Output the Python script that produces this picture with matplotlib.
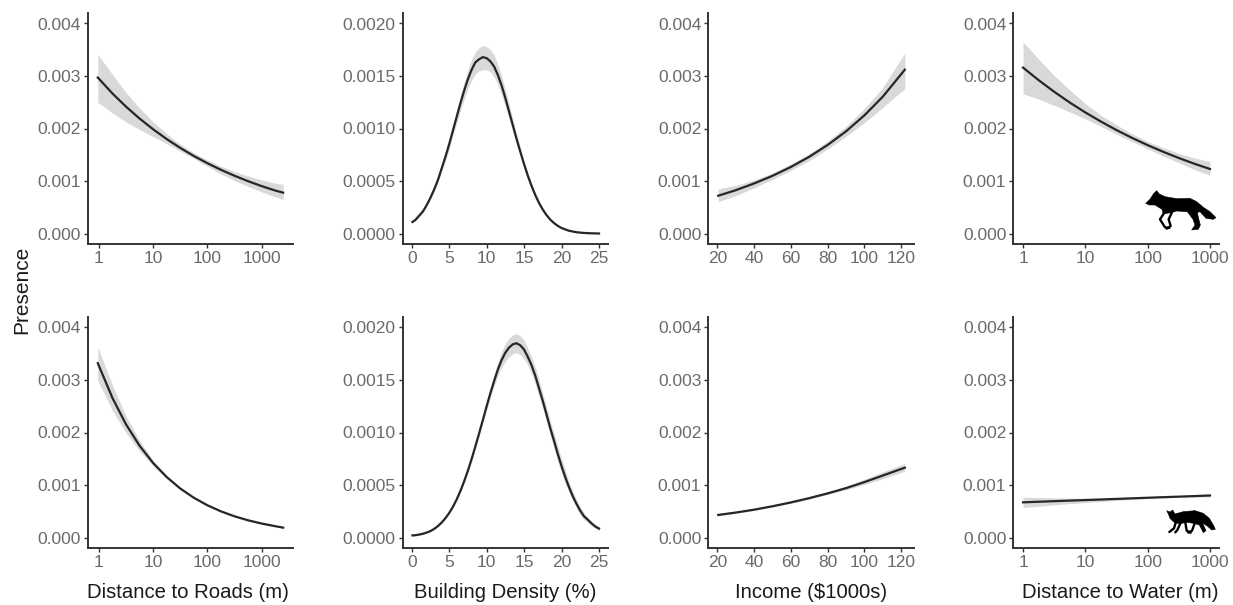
"""Fox presence partial-effect curves, two rows by four covariates."""

import matplotlib

matplotlib.use("Agg")
import matplotlib.pyplot as plt
from matplotlib.lines import Line2D
from matplotlib.patches import Polygon

W, H = 1233, 605

road_x = [0.95, 1.78, 3.16, 5.62, 10, 17.8, 31.6, 56.2, 100, 178, 316, 562, 1000, 1778, 2500]
water_x = [1, 1.78, 3.16, 5.62, 10, 17.8, 31.6, 56.2, 100, 178, 316, 562, 1000]
income_x = [20.5, 30, 40, 50, 60, 70, 80, 90, 100, 110, 122]
density_top_x = [0.1, 0.5, 1, 1.5, 2, 2.5, 3, 3.5, 4, 4.5, 5, 5.5, 6, 6.5, 7, 7.5, 8, 8.5, 9, 9.5,
                 10, 10.5, 11, 11.5, 12, 12.5, 13, 13.5, 14, 14.5, 15, 15.5, 16, 16.5, 17, 17.5,
                 18, 18.5, 19, 19.5, 20, 21, 22, 23, 24, 25]
density_bot_x = [0.1, 0.5, 1, 1.5, 2, 2.5, 3, 3.5, 4, 4.5, 5, 5.5, 6, 6.5, 7, 7.5, 8, 8.5, 9, 9.5,
                 10, 10.5, 11, 11.5, 12, 12.5, 13, 13.5, 14, 14.5, 15, 15.5, 16, 16.5, 17, 17.5,
                 18, 18.5, 19, 19.5, 20, 20.5, 21, 21.5, 22, 22.5, 23, 23.5, 24, 24.5, 25]

# top row
road_top = [.00297, .002665, .002415, .002189, .001984, .001798, .00163, .001477, .001339, .001213,
            .0011, .000997, .000903, .000819, .000778]
road_top_hi = [.00341, .003025, .002685, .002389, .002124, .001898, .0017, .001537, .001399, .001283,
               .00118, .001097, .001023, .000959, .000938]
road_top_lo = [.0025, .002295, .002125, .001979, .001844, .001708, .00157, .001427, .001279, .001133,
               .00101, .000897, .000793, .000699, .000648]

density_top = [.00011, .00013, .00017, .00021, .00027, .00034, .00042, .00051, .00062, .00073,
               .00085, .00098, .00111, .00124, .00136, .00147, .00156, .00163, .00166, .00168,
               .00167, .00164, .00159, .00151, .00141, .00129, .00116, .00103, .0009, .000778,
               .00066, .00055, .000452, .000365, .00029, .000227, .000175, .000132, .000099,
               .000073, .000052, .000026, .000012, .000005, .000002, 0]
density_top_hi = [.00012, .00014, .00018, .00022, .00028, .000355, .00044, .000535, .00065, .00077,
                  .0009, .00103, .00117, .00131, .00144, .00156, .00166, .00173, .00177, .00179,
                  .00178, .00175, .0017, .00161, .0015, .00137, .00123, .00109, .00095, .00082,
                  .00069, .00058, .00048, .00039, .00031, .00024, .000185, .00014, .000105,
                  .000078, .000056, .00003, .000014, .000006, .000003, .000001]
density_top_lo = [.0001, .00012, .00016, .0002, .00026, .000325, .0004, .000485, .00059, .00069,
                  .0008, .00093, .00105, .00117, .00128, .00138, .00146, .00152, .00155, .00156,
                  .00156, .00154, .00149, .00142, .00132, .00121, .00109, .00097, .00085, .00074,
                  .00063, .00052, .00043, .00034, .00027, .00021, .000165, .000124, .000093,
                  .000068, .000048, .000022, .00001, .000004, .000001, 0]

income_top = [.00072, .000824, .000953, .001098, .001267, .001461, .001686, .001945, .00225, .002605, .00312]
income_top_hi = [.00085, .000915, .00102, .001155, .001325, .00152, .00176, .00204, .00238, .00278, .00344]
income_top_lo = [.00061, .00072, .00087, .00103, .0012, .00139, .00161, .00185, .00211, .0024, .00276]

water_top = [.00316, .002921, .0027, .002495, .002306, .002132, .00197, .001821, .001683, .001556,
             .001438, .001329, .001229]
water_top_hi = [.00365, .003321, .00301, .002735, .002476, .002252, .00207, .001901, .001753, .001636,
                .001528, .001439, .001369]
water_top_lo = [.00266, .002561, .00244, .002315, .002186, .002042, .00189, .001751, .001613, .001476,
                .001348, .001219, .001109]

# bottom row
road_bot = [.00332, .002653, .002153, .001747, .001417, .00115, .000933, .000757, .000614, .000498,
            .000404, .000328, .000266, .000216, .000188]
road_bot_hi = [.00363, .002893, .002313, .001847, .001467, .00118, .000953, .000772, .000626, .000509,
               .000414, .000337, .000275, .000225, .000198]
road_bot_lo = [.00299, .002413, .001993, .001647, .001367, .00112, .000913, .000742, .000602, .000487,
               .000394, .000319, .000257, .000207, .000178]

density_bot = [.00002, .000022, .000028, .000036, .000047, .000061, .000082, .000109, .000142, .000184,
               .000233, .000292, .000362, .000443, .000535, .000637, .000748, .000868, .000993, .00112,
               .00125, .001375, .00149, .0016, .00169, .00176, .00181, .00184, .00185, .00183,
               .00179, .00172, .00164, .00154, .00142, .0013, .00117, .00104, .00092, .000795,
               .00068, .000574, .000479, .000393, .00032, .000255, .000202, .00017, .000135, .000105,
               .000085]
density_bot_hi = [.000025, .000027, .000033, .000041, .000052, .000066, .000087, .000115, .000148, .00019,
                  .00024, .0003, .00037, .000455, .00055, .000655, .00077, .000893, .00102, .00115,
                  .00129, .00142, .00155, .00167, .00177, .00185, .0019, .00193, .00194, .00192,
                  .00188, .0018, .00172, .00162, .0015, .00137, .00124, .00111, .00099, .00087,
                  .00075, .00064, .00053, .00044, .00036, .00029, .00023, .00019, .00015, .00012,
                  .000105]
density_bot_lo = [.000015, .000017, .000023, .000031, .000042, .000056, .000077, .000103, .000136, .000178,
                  .000226, .000284, .000354, .000431, .00052, .00062, .000726, .000843, .000966, .00109,
                  .00121, .00133, .00144, .00154, .00162, .00168, .00172, .00175, .00176, .00174,
                  .0017, .00164, .00156, .00146, .00134, .00123, .0011, .00097, .00085, .00072,
                  .00061, .00051, .00043, .00035, .00028, .00022, .00017, .00014, .00011, .00009,
                  .00006]

income_bot = [.00043, .000475, .00053, .000595, .000668, .00075, .00084, .00094, .001055, .00118, .00133]
income_bot_hi = [.00045, .00049, .000545, .00061, .000685, .00077, .00087, .00098, .00111, .00125, .00141]
income_bot_lo = [.00041, .00046, .000515, .00058, .000652, .00073, .00082, .00091, .00101, .00112, .00126]

water_bot = [.00067, .000681, .000692, .000703, .000713, .000724, .000735, .000746, .000757, .000768,
             .000778, .000789, .0008]
water_bot_hi = [.00077, .00076, .000755, .00075, .000748, .000748, .00075, .000755, .000765, .000775,
                .00079, .00081, .00083]
water_bot_lo = [.00057, .000595, .00062, .000645, .000665, .000685, .000705, .000725, .000745, .000755,
                .000765, .00077, .00077]

y_ticks_wide = [0, .001, .002, .003, .004]
y_ticks_narrow = [0, .0005, .001, .0015, .002]
log_ticks = [1, 10, 100, 1000]
log_labels = ["1", "10", "100", "1000"]
density_ticks = [0, 5, 10, 15, 20, 25]
income_ticks = [20, 40, 60, 80, 100, 120]

x_labels = ["Distance to Roads (m)", "Building Density (%)", "Income ($1000s)", "Distance to Water (m)"]
x_label_centres = [187.5, 505, 811, 1120]

# silhouettes, in 3x pixels from an origin in the picture
FOX_RUN_ORIGIN = (1100, 170)
FOX_RUN_BODY = [(137, 100), (150, 88), (160, 72), (170, 62), (178, 72), (195, 80), (230, 86), (270, 85),
                (290, 95), (310, 112), (330, 125), (348, 143), (340, 148), (318, 145), (300, 125),
                (292, 128), (297, 150), (301, 165), (295, 178), (275, 180), (285, 165), (279, 148),
                (262, 125), (230, 123), (212, 128), (190, 132), (186, 118), (165, 105), (148, 105)]
FOX_RUN_LEGS = [[(195, 125), (180, 148), (195, 172), (208, 174)],
                [(218, 122), (206, 148), (212, 168), (200, 176)]]
FOX_WALK_ORIGIN = (1120, 490)
FOX_WALK_BODY = [(140, 62), (150, 66), (158, 60), (165, 72), (190, 65), (225, 62), (250, 70), (268, 85),
                 (280, 105), (286, 118), (275, 120), (262, 108), (248, 100), (258, 122), (250, 128),
                 (238, 105), (222, 100), (200, 97), (185, 100), (170, 100), (160, 95), (150, 85),
                 (145, 72)]
FOX_WALK_LEGS = [[(168, 95), (162, 115), (148, 126)],
                 [(182, 98), (172, 120), (166, 127)],
                 [(196, 98), (200, 122), (212, 128)],
                 [(224, 100), (216, 122), (205, 128)]]


def to_fig(points, origin):
    return [((origin[0] + x / 3) / W, 1 - (origin[1] + y / 3) / H) for x, y in points]


def draw_fox(fig, body, legs, origin):
    fig.add_artist(Polygon(to_fig(body, origin), closed=True, transform=fig.transFigure,
                           facecolor="black", edgecolor="black", linewidth=0.4))
    for leg in legs:
        xy = to_fig(leg, origin)
        fig.add_artist(Line2D([p[0] for p in xy], [p[1] for p in xy], transform=fig.transFigure,
                              color="black", linewidth=1.7, solid_capstyle="round"))


def panel(fig, box, xlim, ylim, x, y, hi, lo, xticks, xticklabels, yticks, yfmt, log=False):
    left, top, right, bottom = box
    ax = fig.add_axes([left / W, 1 - bottom / H, (right - left) / W, (bottom - top) / H])
    if log:
        ax.set_xscale("log")
    ax.fill_between(x, lo, hi, color="#d9d9d9", linewidth=0)
    ax.plot(x, y, color="#262626", linewidth=1.6)
    ax.set_xlim(*xlim)
    ax.set_ylim(*ylim)
    ax.set_xticks(xticks)
    ax.set_xticklabels(xticklabels)
    ax.minorticks_off()
    ax.set_yticks(yticks)
    ax.set_yticklabels([yfmt.format(v) for v in yticks])
    ax.tick_params(axis="both", length=3, width=1, color="#333333", labelcolor="#6a6a6a",
                   labelsize=12.5, pad=2)
    for side in ("top", "right"):
        ax.spines[side].set_visible(False)
    for side in ("left", "bottom"):
        ax.spines[side].set_color("#333333")
        ax.spines[side].set_linewidth(1.4)
    return ax


def main():
    plt.rcParams["font.family"] = ["Liberation Sans", "DejaVu Sans"]
    fig = plt.figure(figsize=(W / 100, H / 100), dpi=100)

    cols = [(88, 293), (402.7, 608), (708.3, 914), (1013.3, 1219.3)]
    rows = [(13, 244), (317, 548)]
    road_lim = (0.627, 3800)
    density_lim = (-1.2, 26.2)
    income_lim = (15.1, 127)
    water_lim = (0.698, 1413)
    wide = (-0.0002, 0.0042)
    narrow = (-0.0001, 0.0021)

    top_series = [
        (road_x, road_top, road_top_hi, road_top_lo),
        (density_top_x, density_top, density_top_hi, density_top_lo),
        (income_x, income_top, income_top_hi, income_top_lo),
        (water_x, water_top, water_top_hi, water_top_lo),
    ]
    bot_series = [
        (road_x, road_bot, road_bot_hi, road_bot_lo),
        (density_bot_x, density_bot, density_bot_hi, density_bot_lo),
        (income_x, income_bot, income_bot_hi, income_bot_lo),
        (water_x, water_bot, water_bot_hi, water_bot_lo),
    ]
    specs = [
        (road_lim, log_ticks, log_labels, True, wide, y_ticks_wide, "{:.3f}"),
        (density_lim, density_ticks, [str(v) for v in density_ticks], False, narrow, y_ticks_narrow, "{:.4f}"),
        (income_lim, income_ticks, [str(v) for v in income_ticks], False, wide, y_ticks_wide, "{:.3f}"),
        (water_lim, log_ticks, log_labels, True, wide, y_ticks_wide, "{:.3f}"),
    ]

    for (top, bottom), series in zip(rows, (top_series, bot_series)):
        for i, (x, y, hi, lo) in enumerate(series):
            xlim, xt, xl, log, ylim, yt, fmt = specs[i]
            box = (cols[i][0], top, cols[i][1], bottom)
            panel(fig, box, xlim, ylim, x, y, hi, lo, xt, xl, yt, fmt, log=log)

    for label, centre in zip(x_labels, x_label_centres):
        fig.text(centre / W, 1 - 592 / H, label, ha="center", va="center",
                 fontsize=14.6, color="#1a1a1a")
    fig.text(22 / W, 1 - 290 / H, "Presence", rotation=90, ha="center", va="center",
             fontsize=15, color="#1a1a1a")
    draw_fox(fig, FOX_RUN_BODY, FOX_RUN_LEGS, FOX_RUN_ORIGIN)
    draw_fox(fig, FOX_WALK_BODY, FOX_WALK_LEGS, FOX_WALK_ORIGIN)
    fig.savefig("out.png", dpi=100)


if __name__ == "__main__":
    main()
